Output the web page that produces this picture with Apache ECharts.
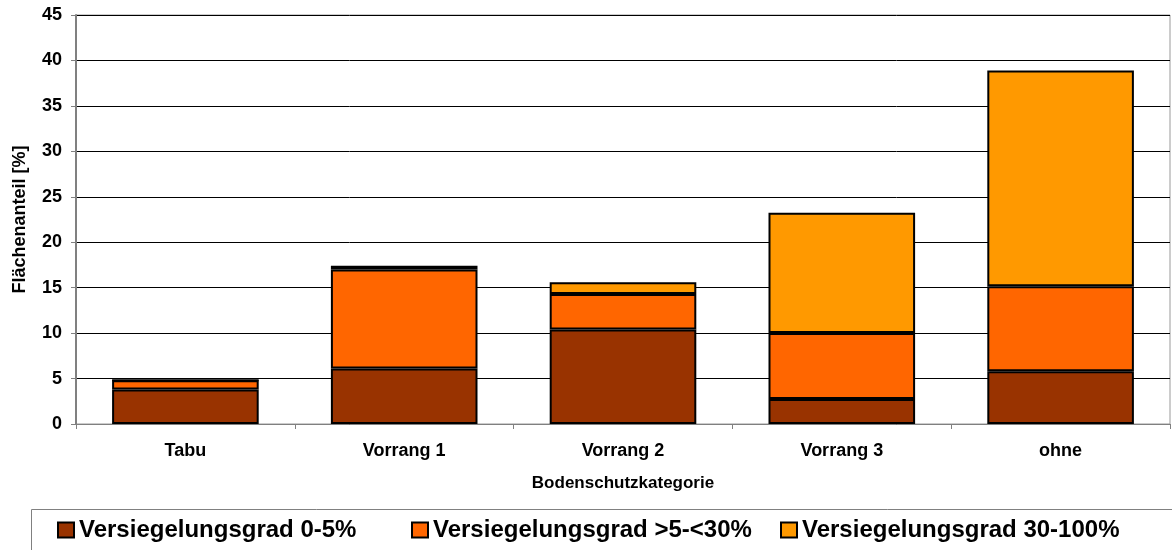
<!DOCTYPE html>
<html>
<head>
<meta charset="utf-8">
<script src="https://cdn.jsdelivr.net/npm/echarts@6/dist/echarts.min.js"></script>
<style>
html,body{margin:0;padding:0;background:#fff;}
#chart{width:1172px;height:550px;}
</style>
</head>
<body>
<div id="chart"></div>
<script>
const categories = ['Tabu', 'Vorrang 1', 'Vorrang 2', 'Vorrang 3', 'ohne'];
const seriesNames = ['Versiegelungsgrad 0-5%', 'Versiegelungsgrad >5-<30%', 'Versiegelungsgrad 30-100%'];
const grad0to5 = [3.8, 6.1, 10.4, 2.75, 5.8];
const grad5to30 = [1.0, 10.9, 3.9, 7.25, 9.35];
const grad30to100 = [0, 0.4, 1.3, 13.25, 23.75];
const colors = ['#993300', '#FF6600', '#FF9900'];

const font = 'Arial, "Liberation Sans", sans-serif';
const chart = echarts.init(document.getElementById('chart'), null, {renderer: 'canvas'});
const seriesData = [grad0to5, grad5to30, grad30to100];
const legendLefts = [57, 411, 780];
chart.setOption({
  animation: false,
  grid: {left: 76, right: 2, top: 15, bottom: 126, show: true, borderColor: '#999', borderWidth: 1},
  legend: seriesNames.map((n, i) => ({
    show: true,
    left: legendLefts[i], top: 518, padding: 0,
    itemWidth: 16, itemHeight: 15, itemGap: 0,
    icon: 'rect',
    textStyle: {fontFamily: font, fontWeight: 'bold', fontSize: 24, color: '#000', padding: [0,0,0,0]},
    itemStyle: {borderColor: '#000', borderWidth: 2},
    data: [n]
  })),
  graphic: [{
    type: 'rect', left: 29, top: 507, shape: {width: 1141, height: 50},
    style: {fill: 'none', stroke: '#808080', lineWidth: 1}, silent: true, z: -1
  }],
  xAxis: {
    type: 'category', data: categories, boundaryGap: true,
    name: 'Bodenschutzkategorie', nameLocation: 'middle', nameGap: 51,
    nameTextStyle: {fontFamily: font, fontWeight: 'bold', fontSize: 17, color: '#000'},
    axisLine: {lineStyle: {color: '#808080', width: 1}},
    axisTick: {show: true, alignWithLabel: false, length: 5, lineStyle: {color: '#808080'}},
    axisLabel: {fontFamily: font, fontWeight: 'bold', fontSize: 18, color: '#000', margin: 18}
  },
  yAxis: {
    type: 'value', min: 0, max: 45, interval: 5,
    name: 'Flächenanteil [%]', nameLocation: 'middle', nameGap: 47, nameRotate: 90,
    nameTextStyle: {fontFamily: font, fontWeight: 'bold', fontSize: 18, color: '#000'},
    axisLine: {show: true, lineStyle: {color: '#808080', width: 2}},
    axisTick: {show: true, length: 5, lineStyle: {color: '#808080'}},
    axisLabel: {fontFamily: font, fontWeight: 'bold', fontSize: 18, color: '#000', margin: 14},
    splitLine: {show: true, lineStyle: {color: '#000', width: 1}}
  },
  series: seriesData.map((d, i) => ({
    name: seriesNames[i], type: 'bar', stack: 'total', data: d,
    barWidth: '67%',
    itemStyle: {color: colors[i], borderColor: '#000', borderWidth: 2}
  }))
});
</script>
</body>
</html>
